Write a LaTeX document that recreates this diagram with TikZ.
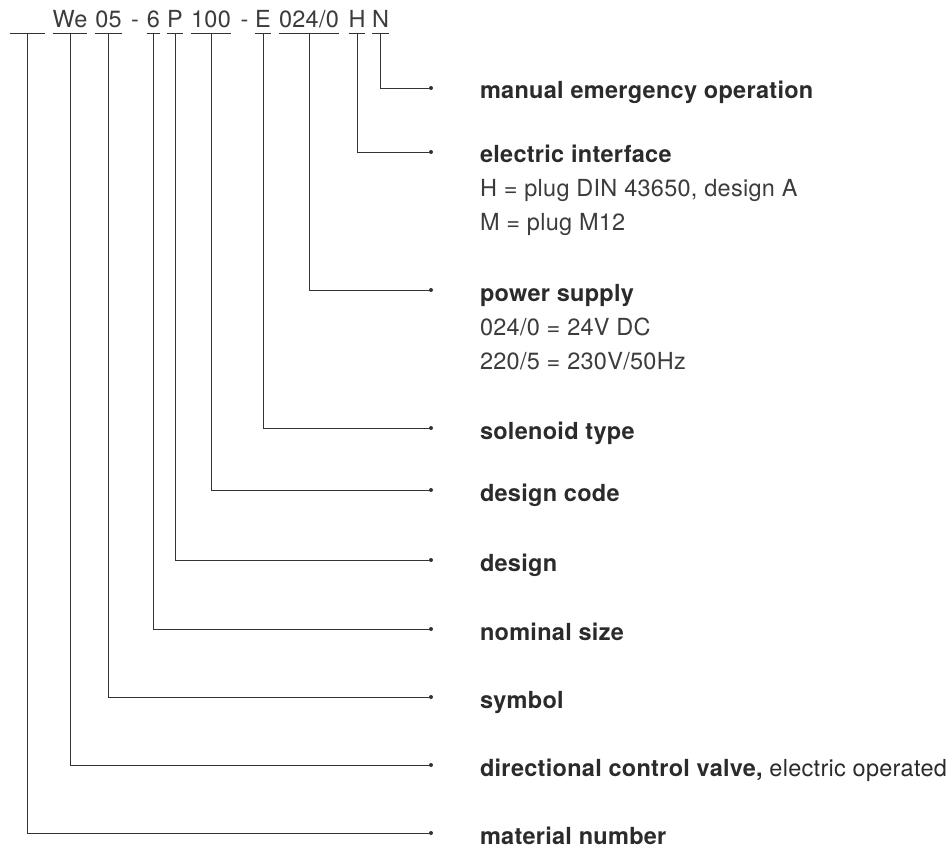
\documentclass[tikz,border=0pt]{standalone}
\usepackage{fontspec}
\setmainfont{TeX Gyre Heros}[LetterSpace=1.2]
\definecolor{ink}{HTML}{2B2B2B}
\definecolor{inkl}{HTML}{3C3C3C}
\definecolor{linec}{HTML}{333333}
\begin{document}
\begin{tikzpicture}[x=1pt,y=-1pt,
  every node/.style={inner sep=0pt,outer sep=0pt},
  codepart/.style={anchor=base,font=\fontsize{23.5}{28}\selectfont,text=inkl},
  lbl/.style={anchor=base west,font=\fontsize{23.5}{28}\selectfont\bfseries,text=ink},
  desc/.style={anchor=base west,font=\fontsize{23.5}{28}\selectfont,text=inkl},
  conn/.style={draw=linec,line width=0.9pt},
  dotc/.style={fill=linec}]
\useasboundingbox (0,0) rectangle (952,850);
% code parts
\node[codepart,minimum width=35pt] (c0) at (27.5,28) {};
\node[codepart] (c1) at (70,28) {We};
\node[codepart] (c2) at (108.5,28) {05};
\node[codepart] (h1) at (135,28) {-};
\node[codepart] (c3) at (153.5,28) {6};
\node[codepart] (c4) at (175,28) {P};
\node[codepart] (c5) at (211,28) {100};
\node[codepart] (h2) at (244.5,28) {-};
\node[codepart] (c6) at (263,28) {E};
\node[codepart] (c7) at (309,28) {024/0};
\node[codepart] (c8) at (357,28) {H};
\node[codepart] (c9) at (380.5,28) {N};
% underlines
\foreach \c in {c0,c1,c2,c3,c4,c5,c6,c7,c8,c9}{
  \draw[conn] ([yshift=-5pt]\c.base west) -- ([yshift=-5pt]\c.base east);
}
% dot coordinates
\coordinate (d9) at (431,88);
\coordinate (d8) at (431,152);
\coordinate (d7) at (431,290);
\coordinate (d6) at (431,428);
\coordinate (d5) at (431,490);
\coordinate (d4) at (431,560);
\coordinate (d3) at (431,629);
\coordinate (d2) at (431,697);
\coordinate (d1) at (431,765);
\coordinate (d0) at (431,833);
\foreach \i in {0,...,9}{
  \draw[conn] ([yshift=-5pt]c\i.base) |- (d\i);
  \fill[dotc] (d\i) circle (2pt);
}
% labels
\node[lbl] (l9) at (480,99) {manual emergency operation};
\node[lbl] (l8) at (480,163) {electric interface};
\node[desc] (l8a) at (480,197) {H = plug DIN 43650, design A};
\node[desc] (l8b) at (480,231) {M = plug M12};
\node[lbl] (l7) at (480,301) {power supply};
\node[desc] (l7a) at (480,335) {024/0 = 24V DC};
\node[desc] (l7b) at (480,369) {220/5 = 230V/50Hz};
\node[lbl] (l6) at (480,439) {solenoid type};
\node[lbl] (l5) at (480,501) {design code};
\node[lbl] (l4) at (480,571) {design};
\node[lbl] (l3) at (480,640) {nominal size};
\node[lbl] (l2) at (480,708) {symbol};
\node[lbl] (l1) at (480,776) {directional control valve,\mdseries\ electric operated};
\node[lbl] (l0) at (480,844) {material number};
\end{tikzpicture}
\end{document}
